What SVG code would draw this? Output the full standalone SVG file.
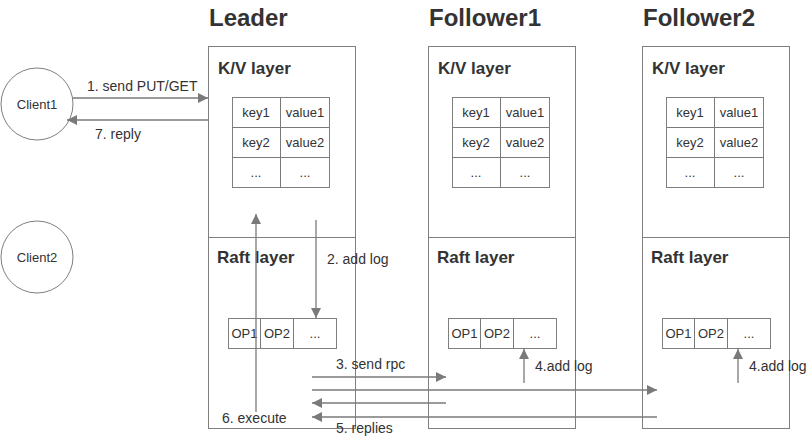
<svg xmlns="http://www.w3.org/2000/svg" width="807" height="436" viewBox="0 0 807 436">
<defs>
<marker id="ah" markerUnits="userSpaceOnUse" markerWidth="10" markerHeight="10" viewBox="0 0 10 10" refX="10" refY="5" orient="auto">
<path d="M0,0 L10,5 L0,10 Z" fill="#7a7a7a"/>
</marker>
<style>
.box{fill:#fff;stroke:#7f7f7f;stroke-width:1}
.ln{stroke:#7a7a7a;stroke-width:1.3;fill:none}
.arr{stroke:#7a7a7a;stroke-width:1.3;fill:none;marker-end:url(#ah)}
text{font-family:"Liberation Sans",Arial,sans-serif;fill:#333}
.h{font-size:24px;font-weight:bold}
.t{font-size:17px;font-weight:bold}
.s{font-size:14px}
.c{font-size:13px;text-anchor:middle}
</style>
</defs>
<rect width="807" height="436" fill="#fff"/>
<g id="titles">
<text class="h" x="209" y="26">Leader</text>
<text class="h" x="429" y="26">Follower1</text>
<text class="h" x="643" y="26">Follower2</text>
</g>
<g id="client1">
<circle cx="37" cy="104" r="36" class="box"/>
<text class="c" x="37" y="109">Client1</text>
</g>
<g id="client2">
<circle cx="37" cy="257" r="36" class="box"/>
<text class="c" x="37" y="262">Client2</text>
</g>
<g id="leader">
<rect class="box" x="208.5" y="46.5" width="147" height="191"/>
<rect class="box" x="208.5" y="237.5" width="147" height="191"/>
<text class="t" x="218" y="74">K/V layer</text>
<text class="t" x="217" y="263">Raft layer</text>
<g id="leader-kv">
<rect class="box" x="232.5" y="97.5" width="97" height="90"/>
<path class="ln" d="M280.5,97.5V187.5M232.5,127.5H329.5M232.5,157.5H329.5" style="stroke-width:1"/>
<text class="c" x="256" y="117">key1</text><text class="c" x="305" y="117">value1</text>
<text class="c" x="256" y="147">key2</text><text class="c" x="305" y="147">value2</text>
<text class="c" x="256" y="177">...</text><text class="c" x="305" y="177">...</text>
</g>
<g id="leader-log">
<rect class="box" x="228.5" y="318.5" width="108" height="30"/>
<path class="ln" d="M260.5,318.5V348.5M293.5,318.5V348.5" style="stroke-width:1"/>
<text class="c" x="244.5" y="338">OP1</text><text class="c" x="277" y="338">OP2</text><text class="c" x="315" y="338">...</text>
</g>
</g>
<g id="follower1">
<rect class="box" x="428.5" y="46.5" width="147" height="191"/>
<rect class="box" x="428.5" y="237.5" width="147" height="191"/>
<text class="t" x="438" y="74">K/V layer</text>
<text class="t" x="437" y="263">Raft layer</text>
<g id="f1-kv">
<rect class="box" x="452.5" y="97.5" width="97" height="90"/>
<path class="ln" d="M500.5,97.5V187.5M452.5,127.5H549.5M452.5,157.5H549.5" style="stroke-width:1"/>
<text class="c" x="476" y="117">key1</text><text class="c" x="525" y="117">value1</text>
<text class="c" x="476" y="147">key2</text><text class="c" x="525" y="147">value2</text>
<text class="c" x="476" y="177">...</text><text class="c" x="525" y="177">...</text>
</g>
<g id="f1-log">
<rect class="box" x="448.5" y="318.5" width="108" height="30"/>
<path class="ln" d="M480.5,318.5V348.5M513.5,318.5V348.5" style="stroke-width:1"/>
<text class="c" x="464.5" y="338">OP1</text><text class="c" x="497" y="338">OP2</text><text class="c" x="535" y="338">...</text>
</g>
</g>
<g id="follower2">
<rect class="box" x="642.5" y="46.5" width="147" height="191"/>
<rect class="box" x="642.5" y="237.5" width="147" height="191"/>
<text class="t" x="652" y="74">K/V layer</text>
<text class="t" x="651" y="263">Raft layer</text>
<g id="f2-kv">
<rect class="box" x="666.5" y="97.5" width="97" height="90"/>
<path class="ln" d="M714.5,97.5V187.5M666.5,127.5H763.5M666.5,157.5H763.5" style="stroke-width:1"/>
<text class="c" x="690" y="117">key1</text><text class="c" x="739" y="117">value1</text>
<text class="c" x="690" y="147">key2</text><text class="c" x="739" y="147">value2</text>
<text class="c" x="690" y="177">...</text><text class="c" x="739" y="177">...</text>
</g>
<g id="f2-log">
<rect class="box" x="662.5" y="318.5" width="108" height="30"/>
<path class="ln" d="M694.5,318.5V348.5M727.5,318.5V348.5" style="stroke-width:1"/>
<text class="c" x="678.5" y="338">OP1</text><text class="c" x="711" y="338">OP2</text><text class="c" x="749" y="338">...</text>
</g>
</g>
<g id="connectors">
<line class="arr" x1="73" y1="98" x2="208" y2="98"/>
<line class="arr" x1="208" y1="120" x2="67" y2="120"/>
<line class="arr" x1="316" y1="220" x2="316" y2="318"/>
<line class="arr" x1="256" y1="412" x2="256" y2="214"/>
<line class="arr" x1="312" y1="377" x2="446" y2="377"/>
<line class="arr" x1="312" y1="390" x2="657" y2="390"/>
<line class="arr" x1="446" y1="403" x2="312" y2="403"/>
<line class="arr" x1="657" y1="417" x2="312" y2="417"/>
<line class="arr" x1="524" y1="383" x2="524" y2="349"/>
<line class="arr" x1="738" y1="383" x2="738" y2="349"/>
</g>
<g id="labels">
<text class="s" x="87" y="91">1. send PUT/GET</text>
<text class="s" x="95" y="139">7. reply</text>
<text class="s" x="327" y="264">2. add log</text>
<text class="s" x="336" y="369">3. send rpc</text>
<text class="s" x="535" y="371">4.add log</text>
<text class="s" x="749" y="371">4.add log</text>
<text class="s" x="222" y="423">6. execute</text>
<text class="s" x="336" y="433">5. replies</text>
</g>
</svg>
